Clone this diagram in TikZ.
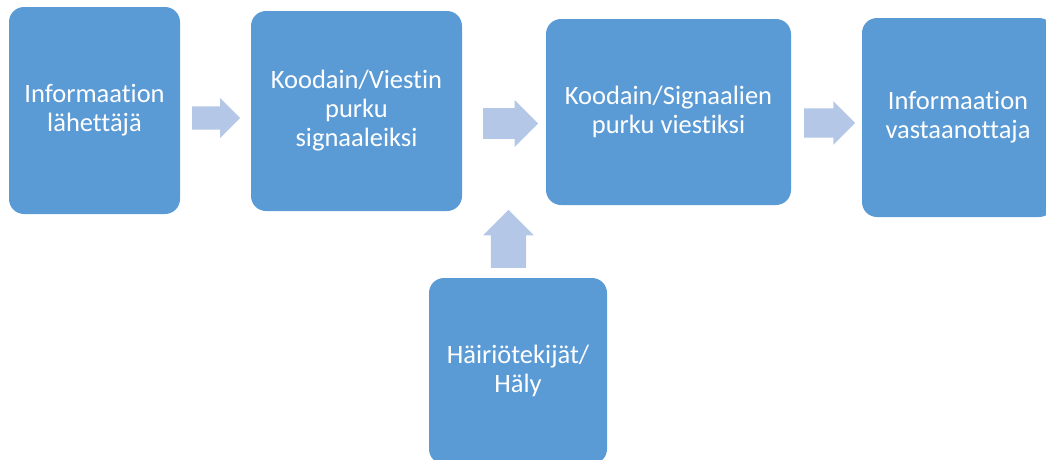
\documentclass[tikz,border=0pt]{standalone}
\usepackage{fontspec}
\setmainfont{Carlito}[Ligatures=NoCommon]
\usetikzlibrary{shapes.arrows}
\definecolor{boxblue}{HTML}{5B9BD5}
\definecolor{arrowblue}{HTML}{B4C7E7}
\tikzset{
  stage/.style={rectangle, rounded corners=15pt, fill=boxblue, text=white,
    align=center, inner sep=0pt, font=\fontsize{26.5}{29}\selectfont},
  blockarrow/.style={single arrow, fill=arrowblue, draw=none, anchor=tail,
    single arrow head indent=0pt}
}
\begin{document}
\begin{tikzpicture}[x=1pt, y=-1pt]
  \clip (0,0) rectangle (1046,459);
  \node[stage, minimum width=171pt, minimum height=207pt] (send) at (94.5,110.5) {Informaation\\lähettäjä};
  \node[stage, minimum width=211pt, minimum height=200pt] (enc) at (356.5,111) {Koodain/Viestin\\purku\\signaaleiksi};
  \node[stage, minimum width=245pt, minimum height=186pt] (dec) at (668.5,112) {Koodain/Signaalien\\purku viestiksi};
  \node[stage, minimum width=192pt, minimum height=199pt] (recv) at (958,117.5) {Informaation\\vastaanottaja};
  \node[stage, minimum width=178pt, minimum height=186pt] (noise) at (518,371) {Häiriötekijät/\\Häly};
  \node[blockarrow, inner xsep=0pt, inner ysep=9.5pt, minimum height=48pt, minimum width=40pt] (a1) at (192,118) {};
  \node[blockarrow, inner xsep=0pt, inner ysep=13pt, minimum height=55pt, minimum width=47pt] (a2) at (483,123.5) {};
  \node[blockarrow, inner xsep=0pt, inner ysep=14.5pt, minimum height=51pt, minimum width=42pt] (a3) at (804,123) {};
  \node[blockarrow, inner ysep=0pt, inner xsep=16pt, minimum height=58pt, minimum width=51pt, shape border rotate=90] (a4) at (508.5,268) {};
\end{tikzpicture}
\end{document}
